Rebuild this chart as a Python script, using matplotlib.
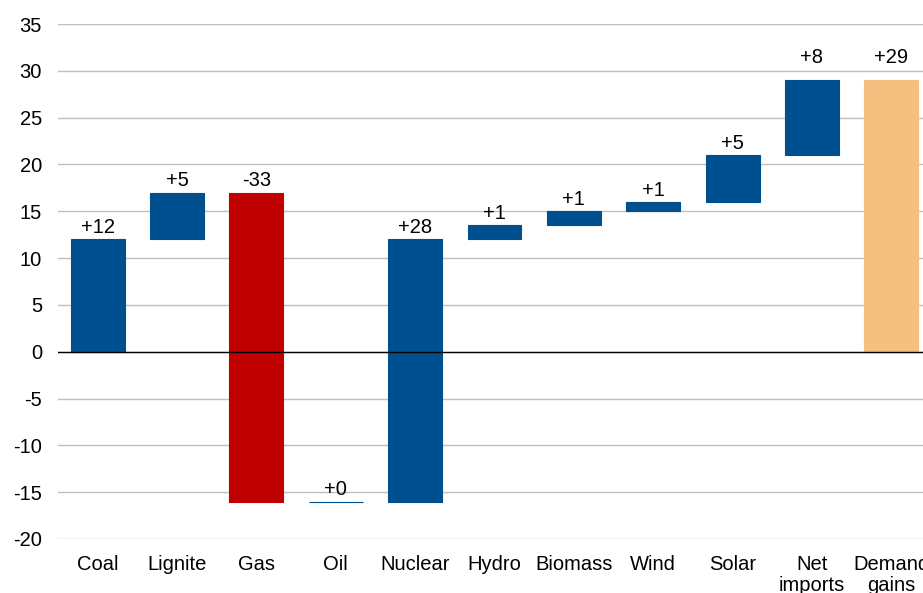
import matplotlib
matplotlib.use("Agg")
import matplotlib.pyplot as plt
import numpy as np

plt.rcParams['font.family'] = ['Liberation Sans', 'DejaVu Sans']

categories = ["Coal", "Lignite", "Gas", "Oil", "Nuclear", "Hydro", "Biomass",
              "Wind", "Solar", "Net\nimports", "Demand\ngains"]
deltas = [12, 5, -33, 0, 28, 1.5, 1.5, 1, 5, 8]
value_labels = ["+12", "+5", "-33", "+0", "+28", "+1", "+1", "+1", "+5", "+8", "+29"]
yticks = list(range(-20, 36, 5))

blue = "#00508F"
red = "#C00000"
orange = "#F5C07F"
FS = 14.5

fig = plt.figure(figsize=(9.23, 5.93), dpi=100)
ax = fig.add_axes([58/923, 54/593, 873/923, 515/593])

x = np.arange(len(categories))
cum = np.concatenate([[0], np.cumsum(deltas)])
bottoms = []
heights = []
colors = []
for i, d in enumerate(deltas):
    bottoms.append(cum[i])
    heights.append(d)
    colors.append(red if d < 0 else blue)
total = cum[-1]
bottoms.append(0)
heights.append(total)
colors.append(orange)

width = 0.68
ax.bar(x, heights, bottom=bottoms, width=width, color=colors,
       edgecolor=colors, linewidth=0.8, zorder=3)

for i in range(len(categories)):
    top = max(bottoms[i], bottoms[i] + heights[i])
    off = 0.25 if top < 25 else 1.4
    ax.text(x[i], top + off, value_labels[i], ha='center', va='bottom',
            fontsize=FS, color='black', zorder=4)

ax.set_xlim(-0.5, len(categories) - 0.5)
ax.set_ylim(-20, 35)
ax.set_yticks(yticks)
ax.set_yticklabels([str(t) for t in yticks], fontsize=FS)
ax.set_xticks(x)
ax.set_xticklabels(categories, fontsize=FS, linespacing=1.15)
ax.tick_params(axis='both', length=0)
ax.tick_params(axis='y', pad=11.5)
ax.tick_params(axis='x', pad=11.5)
for s in ax.spines.values():
    s.set_visible(False)
ax.yaxis.grid(True, color='#BFBFBF', linewidth=1, zorder=0)
ax.set_axisbelow(True)
ax.axhline(0, color='black', linewidth=1, zorder=3.5)

fig.savefig("out.png", dpi=100)
